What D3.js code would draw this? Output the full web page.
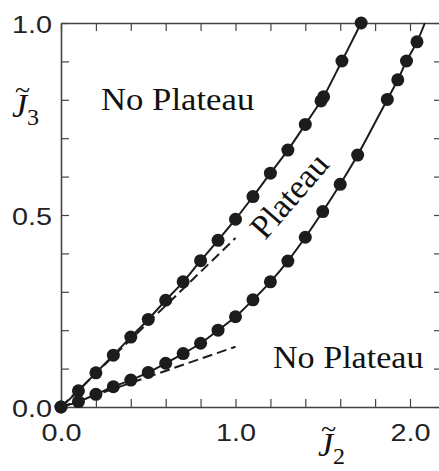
<!DOCTYPE html>
<html><head><meta charset="utf-8">
<script src="https://cdn.jsdelivr.net/npm/d3@7"></script>
<style>body{margin:0;background:#fff}</style>
</head><body>
<svg id="c" width="439" height="471"></svg>
<script>
// ---- data ----
const upperX = [0, 0.1, 0.2, 0.3, 0.4, 0.5, 0.6, 0.7, 0.8, 0.9, 1.0, 1.1, 1.2, 1.3, 1.4, 1.49, 1.505, 1.61, 1.72];
const upperY = [0, 0.042, 0.089, 0.135, 0.182, 0.228, 0.278, 0.326, 0.381, 0.434, 0.489, 0.548, 0.609, 0.669, 0.736, 0.797, 0.808, 0.901, 1.0];
const lowerX = [0, 0.1, 0.2, 0.3, 0.4, 0.5, 0.6, 0.7, 0.8, 0.9, 1.0, 1.1, 1.2, 1.3, 1.4, 1.5, 1.6, 1.7, 1.87, 1.93, 1.98, 2.04];
const lowerY = [0, 0.014, 0.033, 0.053, 0.070, 0.090, 0.114, 0.139, 0.166, 0.200, 0.235, 0.279, 0.326, 0.380, 0.442, 0.509, 0.580, 0.656, 0.801, 0.852, 0.901, 0.951];
const lowerLineEndX = [2.085];
const lowerLineEndY = [1.0];
const dashUpperX = [0, 1.0];
const dashUpperY = [0, 0.44];
const dashLowerX = [0, 1.0];
const dashLowerY = [0, 0.157];
const xTicks = [0, 0.2, 0.4, 0.6, 0.8, 1.0, 1.2, 1.4, 1.6, 1.8, 2.0];
const xTickLabels = ["0.0", "1.0", "2.0"];
const yTicks = [0, 0.1, 0.2, 0.3, 0.4, 0.5, 0.6, 0.7, 0.8, 0.9, 1.0];
const yTickLabels = ["0.0", "0.5", "1.0"];
const regionLabels = ["No Plateau", "Plateau", "No Plateau"];

// ---- layout ----
const L = 61, R = 440, T = 23, B = 407;
const x = d3.scaleLinear().domain([0, 2.1719]).range([L, R]);
const y = d3.scaleLinear().domain([0, 1]).range([B, T]);
const svg = d3.select("#c");
const ink = "#1c1c1c", axisCol = "#444";

function fmt(v, labels) {
  const s = v.toFixed(1);
  return labels.includes(s) ? s : "";
}

function styleAxis(g) {
  g.select(".domain").attr("stroke", axisCol).attr("stroke-width", 1.6);
  g.selectAll(".tick line").attr("stroke", axisCol).attr("stroke-width", 1.2);
  g.selectAll("text").attr("font-family", "'Liberation Sans', Arial, sans-serif")
    .attr("font-size", 24).attr("fill", "#222");
}

// bottom axis
const gB = svg.append("g").attr("transform", `translate(0,${B})`)
  .call(d3.axisBottom(x).tickValues(xTicks).tickSizeInner(-8).tickSizeOuter(0)
    .tickPadding(0).tickFormat(v => fmt(v, xTickLabels)));
styleAxis(gB);
gB.selectAll("text").attr("y", 0).attr("dy", 0)
  .attr("transform", "translate(0,34) scale(1.2,1)");

// top axis
const gT = svg.append("g").attr("transform", `translate(0,${T})`)
  .call(d3.axisTop(x).tickValues(xTicks).tickSizeInner(-8).tickSizeOuter(0).tickFormat(""));
styleAxis(gT);

// left axis
const gL = svg.append("g").attr("transform", `translate(${L},0)`)
  .call(d3.axisLeft(y).tickValues(yTicks).tickSizeInner(-8).tickSizeOuter(0)
    .tickPadding(0).tickFormat(v => fmt(v, yTickLabels)));
styleAxis(gL);
gL.selectAll("text").attr("x", 0).attr("dy", 0)
  .attr("transform", "translate(-9,9) scale(1.2,1)");

// right axis
const gR = svg.append("g").attr("transform", `translate(${R},0)`)
  .call(d3.axisRight(y).tickValues(yTicks).tickSizeInner(-6).tickSizeOuter(0).tickFormat(""));
styleAxis(gR);

// curves
const upper = upperX.map((v, i) => [v, upperY[i]]);
const lower = lowerX.map((v, i) => [v, lowerY[i]]);
const lowerLine = lower.concat(lowerLineEndX.map((v, i) => [v, lowerLineEndY[i]]));
const line = d3.line().x(d => x(d[0])).y(d => y(d[1])).curve(d3.curveCatmullRom);
const straight = d3.line().x(d => x(d[0])).y(d => y(d[1]));

svg.append("path").attr("d", straight(dashUpperX.map((v, i) => [v, dashUpperY[i]])))
  .attr("fill", "none").attr("stroke", ink).attr("stroke-width", 2).attr("stroke-dasharray", "10,5");
svg.append("path").attr("d", straight(dashLowerX.map((v, i) => [v, dashLowerY[i]])))
  .attr("fill", "none").attr("stroke", ink).attr("stroke-width", 2).attr("stroke-dasharray", "10,5");

svg.append("path").attr("d", line(upper)).attr("fill", "none").attr("stroke", ink).attr("stroke-width", 2);
svg.append("path").attr("d", line(lowerLine)).attr("fill", "none").attr("stroke", ink).attr("stroke-width", 2);

svg.append("g").selectAll("circle").data(upper.concat(lower)).join("circle")
  .attr("cx", d => x(d[0])).attr("cy", d => y(d[1])).attr("r", 6.5).attr("fill", ink);

// region labels
const serif = "'Liberation Serif', 'Times New Roman', serif";
svg.append("text").attr("transform", "translate(101,110) scale(1.12,1)")
  .attr("font-family", serif).attr("font-size", 31).attr("fill", "#111").text(regionLabels[0]);
svg.append("text").attr("transform", "translate(265,241) rotate(-49)")
  .attr("font-family", serif).attr("font-size", 34).attr("fill", "#111").text(regionLabels[1]);
svg.append("text").attr("transform", "translate(273,368) scale(1.1,1)")
  .attr("font-family", serif).attr("font-size", 31).attr("fill", "#111").text(regionLabels[2]);

// axis titles: J~3 and J~2 (one text element each)
function jLabel(px, py, sub) {
  const t = svg.append("text").attr("font-family", serif).attr("font-size", 34).attr("fill", "#111")
    .attr("transform", `translate(${px},${py})`);
  t.append("tspan").attr("x", 3).attr("y", -18).attr("font-size", 28).text("~");
  t.append("tspan").attr("x", 0).attr("y", 0).attr("font-style", "italic").text("J");
  t.append("tspan").attr("font-size", 24).attr("dy", 8).text(sub);
}
jLabel(12, 117, "3");
jLabel(318, 456, "2");
</script>
</body></html>
